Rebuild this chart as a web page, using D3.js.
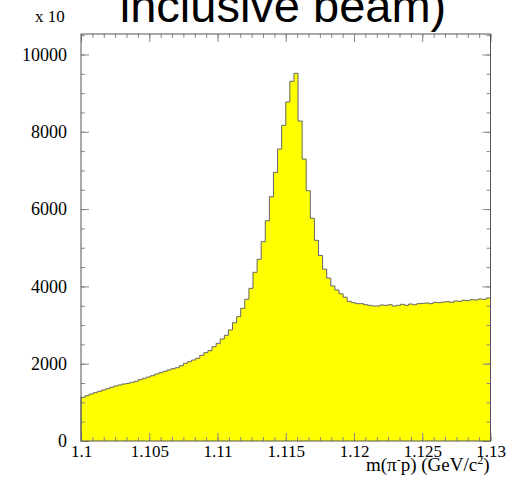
<!DOCTYPE html>
<html>
<head>
<meta charset="utf-8">
<script src="https://cdn.jsdelivr.net/npm/d3@7"></script>
<style>
  html, body { margin: 0; padding: 0; background: #fff; }
  svg { display: block; }
</style>
</head>
<body>
<svg id="chart" width="510" height="485"></svg>
<script>
// Histogram of the pi- p invariant mass: 100 bins between 1.1 and 1.13 GeV/c^2,
// entries shown in units of 10.
const xMin = 1.1;
const xMax = 1.13;
const binCount = 100;
const counts = [
  1130, 1172, 1216, 1250, 1285, 1319, 1353, 1389, 1423, 1449,
  1475, 1492, 1518, 1544, 1587, 1622, 1656, 1690, 1733, 1767,
  1803, 1837, 1870, 1896, 1948, 2010, 2052, 2095, 2139, 2217,
  2285, 2336, 2440, 2527, 2639, 2734, 2872, 3060, 3216, 3433,
  3666, 3950, 4364, 4700, 5156, 5699, 6320, 6951, 7554, 8167,
  8770, 9306, 9513, 8278, 7295, 6475, 5761, 5192, 4800, 4445,
  4215, 4010, 3906, 3808, 3720, 3614, 3580, 3553, 3553, 3527,
  3510, 3492, 3492, 3518, 3510, 3527, 3492, 3510, 3536, 3510,
  3544, 3527, 3553, 3562, 3570, 3553, 3588, 3580, 3596, 3605,
  3588, 3622, 3614, 3640, 3631, 3657, 3648, 3674, 3666, 3700
];
const xTickValues = [1.1, 1.105, 1.11, 1.115, 1.12, 1.125, 1.13];
const xTickLabels = ["1.1", "1.105", "1.11", "1.115", "1.12", "1.125", "1.13"];
const yTickValues = [0, 2000, 4000, 6000, 8000, 10000];
const yTickLabels = ["0", "2000", "4000", "6000", "8000", "10000"];
const yMaxShown = 10530;
const titleText = "inclusive beam)";
const scaleNote = "x 10";

const SERIF = "'Liberation Serif', 'DejaVu Serif', serif";
const svg = d3.select("#chart");
const frame = { left: 81, right: 490.5, top: 34, bottom: 441 };

const x = d3.scaleLinear().domain([xMin, xMax]).range([frame.left, frame.right]);
const y = d3.scaleLinear().domain([0, yMaxShown]).range([frame.bottom, frame.top]);

const binWidth = (xMax - xMin) / binCount;
const bins = counts.map((v, i) => ({ x0: xMin + i * binWidth, x1: xMin + (i + 1) * binWidth, v }));

// Step outline of the histogram
const pts = [[x(xMin), y(0)]];
bins.forEach(b => { pts.push([x(b.x0), y(b.v)]); pts.push([x(b.x1), y(b.v)]); });
pts.push([x(xMax), y(0)]);

svg.append("path")
  .attr("d", d3.line()(pts) + "Z")
  .attr("fill", "#ffff00")
  .attr("stroke", "none");

svg.append("path")
  .attr("d", d3.line()(pts))
  .attr("fill", "none")
  .attr("stroke", "#666")
  .attr("stroke-width", 1);

// Minor tick positions
const xMinor = d3.range(0, 37).map(i => xMin + i * 0.005 / 6);
const yMinor = d3.range(0, 22).map(i => i * 500).filter(v => v <= yMaxShown);

function styleAxis(g) {
  g.attr("font-family", SERIF).attr("font-size", 17);
  g.select(".domain").remove();
  g.selectAll(".tick line").attr("stroke", "#888").attr("stroke-width", 1);
  g.selectAll("text").attr("fill", "#000");
}

// Bottom axis
svg.append("g").attr("transform", `translate(0,${frame.bottom})`)
  .call(d3.axisBottom(x).tickValues(xMinor).tickSize(-4).tickFormat(""))
  .call(styleAxis);
svg.append("g").attr("transform", `translate(0,${frame.bottom})`)
  .call(d3.axisBottom(x).tickValues(xTickValues).tickSize(-8).tickPadding(4)
    .tickFormat((d, i) => xTickLabels[i]))
  .call(styleAxis);

// Top axis (ticks only)
svg.append("g").attr("transform", `translate(0,${frame.top})`)
  .call(d3.axisTop(x).tickValues(xMinor).tickSize(-4).tickFormat(""))
  .call(styleAxis);
svg.append("g").attr("transform", `translate(0,${frame.top})`)
  .call(d3.axisTop(x).tickValues(xTickValues).tickSize(-8).tickFormat(""))
  .call(styleAxis);

// Left axis
svg.append("g").attr("transform", `translate(${frame.left},0)`)
  .call(d3.axisLeft(y).tickValues(yMinor).tickSize(-4).tickFormat(""))
  .call(styleAxis);
svg.append("g").attr("transform", `translate(${frame.left},0)`)
  .call(d3.axisLeft(y).tickValues(yTickValues).tickSize(-8).tickPadding(14)
    .tickFormat((d, i) => yTickLabels[i]))
  .call(styleAxis)
  .call(g => g.attr("font-size", 18));

// Right axis (ticks only)
svg.append("g").attr("transform", `translate(${frame.right},0)`)
  .call(d3.axisRight(y).tickValues(yMinor).tickSize(-4).tickFormat(""))
  .call(styleAxis);
svg.append("g").attr("transform", `translate(${frame.right},0)`)
  .call(d3.axisRight(y).tickValues(yTickValues).tickSize(-8).tickFormat(""))
  .call(styleAxis);

// Frame
svg.append("rect")
  .attr("x", frame.left).attr("y", frame.top)
  .attr("width", frame.right - frame.left).attr("height", frame.bottom - frame.top)
  .attr("fill", "none").attr("stroke", "#555").attr("stroke-width", 1);

// Scale factor note
svg.append("text").attr("font-family", SERIF)
  .attr("x", 35).attr("y", 22).attr("font-size", 17).text(scaleNote);

// Axis title: m(pi- p) (GeV/c2)
const t = svg.append("text").attr("font-family", SERIF)
  .attr("x", frame.right - 1).attr("y", 471)
  .attr("text-anchor", "end").attr("font-size", 19);
t.append("tspan").text("m(π");
t.append("tspan").attr("font-size", 12).attr("dy", -7).text("-");
t.append("tspan").attr("dy", 7).text("p) (GeV/c");
t.append("tspan").attr("font-size", 12).attr("dy", -7).text("2");
t.append("tspan").attr("dy", 7).text(")");

// Title, partly above the page edge
svg.append("text")
  .attr("x", 283).attr("y", 22)
  .attr("text-anchor", "middle")
  .attr("font-family", "'Liberation Sans', Arial, sans-serif")
  .attr("font-size", 47)
  .attr("fill", "#000")
  .text(titleText);
</script>
</body>
</html>
